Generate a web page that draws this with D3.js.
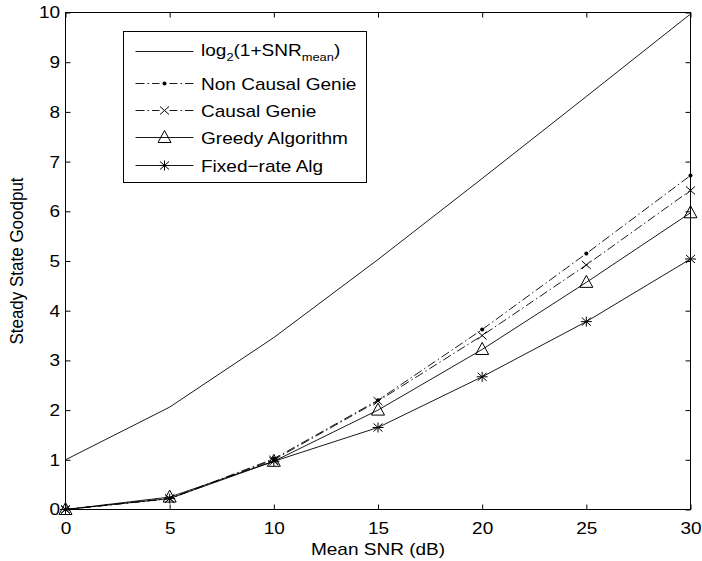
<!DOCTYPE html>
<html>
<head>
<meta charset="utf-8">
<script src="https://cdn.jsdelivr.net/npm/d3@7"></script>
<style>
body { margin: 0; background: #fff; }
svg { font-family: "Liberation Sans", Arial, sans-serif; }
</style>
</head>
<body>
<svg width="702" height="561"></svg>
<script>
// values
var snr = [0, 5, 10, 15, 20, 25, 30];
var capacity = [1.0, 2.06, 3.46, 5.03, 6.66, 8.31, 9.97];
var nonCausal = [0, 0.22, 1.02, 2.2, 3.62, 5.15, 6.72];
var causal = [0, 0.22, 1.0, 2.18, 3.5, 4.92, 6.42];
var greedy = [0, 0.25, 0.97, 2.0, 3.22, 4.57, 5.97];
var fixedRate = [0, 0.22, 0.97, 1.65, 2.67, 3.78, 5.04];
var xTicks = [0, 5, 10, 15, 20, 25, 30];
var yTicks = [0, 1, 2, 3, 4, 5, 6, 7, 8, 9, 10];

var series = [
    {name: "cap", values: capacity, dash: null, marker: "none"},
    {name: "Non Causal Genie", values: nonCausal, dash: "9,3,1.5,3", marker: "dot"},
    {name: "Causal Genie", values: causal, dash: "9,3,1.5,3", marker: "x"},
    {name: "Greedy Algorithm", values: greedy, dash: null, marker: "tri"},
    {name: "Fixed\u2212rate Alg", values: fixedRate, dash: null, marker: "star"}
];

// the text in the picture is a bit wider than it is tall
var stretch = "scale(1.12,1)";
var fs = "17px";

var svg = d3.select("svg"),
    margin = {top: 12.5, right: 11.5, bottom: 51.5, left: 65.5},
    width = +svg.attr("width") - margin.left - margin.right,
    height = +svg.attr("height") - margin.top - margin.bottom;

var x = d3.scaleLinear().domain([0, 30]).range([0, width]),
    y = d3.scaleLinear().domain([0, 10]).range([height, 0]);

var g = svg.append("g")
    .attr("transform", "translate(" + margin.left + "," + margin.top + ")");

// ticks on all four sides, pointing inwards
function styleAxis(sel) {
    sel.select(".domain").remove();
    sel.selectAll("line").attr("stroke", "#000");
    sel.selectAll("text").attr("fill", "#000").style("font-size", fs)
        .attr("transform", stretch);
}
g.append("g")
    .attr("transform", "translate(0," + height + ")")
    .call(d3.axisBottom(x).tickValues(xTicks).tickSizeInner(-5).tickPadding(12.5))
    .call(styleAxis);
g.append("g")
    .call(d3.axisTop(x).tickValues(xTicks).tickSizeInner(-5).tickFormat(""))
    .call(styleAxis);
g.append("g")
    .call(d3.axisLeft(y).tickValues(yTicks).tickSizeInner(-5).tickPadding(4.8))
    .call(styleAxis);
g.append("g")
    .attr("transform", "translate(" + width + ",0)")
    .call(d3.axisRight(y).tickValues(yTicks).tickSizeInner(-5).tickFormat(""))
    .call(styleAxis);

g.append("rect")
    .attr("width", width).attr("height", height)
    .attr("fill", "none").attr("stroke", "#000").attr("stroke-width", 1);

var line = d3.line()
    .x(function(d, i) { return x(snr[i]); })
    .y(function(d) { return y(d); });

function drawMarker(sel, type) {
    if (type === "dot") {
        sel.append("circle").attr("r", 2).attr("fill", "#000");
    } else if (type === "x") {
        sel.append("path").attr("d", "M-4.5,-4L4.5,4M-4.5,4L4.5,-4")
            .attr("stroke", "#000").attr("fill", "none");
    } else if (type === "tri") {
        sel.append("path").attr("d", "M0,-7L6.5,5L-6.5,5Z")
            .attr("stroke", "#000").attr("fill", "none");
    } else if (type === "star") {
        sel.append("path").attr("d", "M-5.5,0L5.5,0M0,-5L0,5M-4.5,-4L4.5,4M-4.5,4L4.5,-4")
            .attr("stroke", "#000").attr("fill", "none");
    }
}

series.forEach(function(s) {
    g.append("path")
        .datum(s.values)
        .attr("d", line)
        .attr("fill", "none")
        .attr("stroke", "#000")
        .attr("stroke-width", 0.9)
        .attr("stroke-dasharray", s.dash);
    var m = g.selectAll(".m-" + s.marker)
        .data(s.values)
        .enter().append("g")
        .attr("transform", function(d, i) { return "translate(" + x(snr[i]) + "," + y(d) + ")"; });
    m.each(function() { drawMarker(d3.select(this), s.marker); });
});

// legend
var leg = svg.append("g").attr("transform", "translate(123.5,31.5)");
leg.append("rect").attr("width", 243).attr("height", 151)
    .attr("fill", "#fff").attr("stroke", "#000");
var rowY = [20, 52, 79, 106, 134];
series.forEach(function(s, i) {
    var r = leg.append("g").attr("transform", "translate(0," + rowY[i] + ")");
    r.append("line").attr("x1", 12).attr("x2", 70)
        .attr("stroke", "#000").attr("stroke-width", 0.9)
        .attr("stroke-dasharray", s.dash);
    var mk = r.append("g").attr("transform", "translate(41,0)");
    drawMarker(mk, s.marker);
    if (s.marker === "x" || s.marker === "dot") {
        mk.insert("rect", ":first-child").attr("x", -5).attr("y", -5).attr("width", 10).attr("height", 10).attr("fill", "#fff");
    }
    var t = r.append("text")
        .attr("transform", "translate(77.5," + (i === 0 ? 4 : 6) + ") " + stretch)
        .style("font-size", fs);
    if (i === 0) {
        t.append("tspan").text("log");
        t.append("tspan").attr("dy", 5).style("font-size", "11.5px").text("2");
        t.append("tspan").attr("dy", -5).text("(1+SNR");
        t.append("tspan").attr("dy", 5).style("font-size", "11.5px").text("mean");
        t.append("tspan").attr("dy", -5).text(")");
    } else {
        t.text(s.name);
    }
});

// axis labels
svg.append("text")
    .attr("transform", "translate(" + (margin.left + width / 2) + ",555) " + stretch)
    .attr("text-anchor", "middle").style("font-size", fs)
    .text("Mean SNR (dB)");
svg.append("text")
    .attr("transform", "translate(23," + (margin.top + height / 2) + ") " + stretch + " rotate(-90)")
    .attr("text-anchor", "middle").style("font-size", fs)
    .text("Steady State Goodput");
</script>
</body>
</html>
